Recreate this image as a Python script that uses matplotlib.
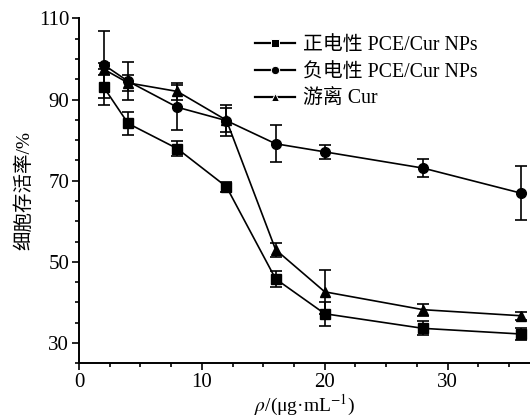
import matplotlib
matplotlib.use("Agg")
import matplotlib.pyplot as plt
from matplotlib.ticker import MultipleLocator
from matplotlib.lines import Line2D

plt.rcParams['font.family'] = ['Liberation Serif', 'Noto Sans CJK SC', 'DejaVu Sans']
plt.rcParams['mathtext.fontset'] = 'stix'

x = [2, 4, 8, 12, 16, 20, 28, 36]
pos_y = [93.1, 84.1, 77.9, 68.5, 45.8, 37.2, 33.6, 32.2]
pos_err = [4.5, 2.8, 1.9, 1.2, 2.0, 3.0, 1.7, 1.5]
neg_y = [98.6, 94.5, 88.1, 84.8, 79.1, 77.1, 73.1, 66.9]
neg_err = [8.2, 4.7, 5.5, 3.8, 4.5, 1.7, 2.2, 6.7]
free_y = [97.5, 94.1, 92.0, 84.9, 53.0, 42.6, 38.2, 36.7]
free_err = [1.5, 2.0, 2.0, 3.0, 1.7, 5.5, 1.5, 1.0]
labels = ['正电性 PCE/Cur NPs', '负电性 PCE/Cur NPs', '游离 Cur']
markers = ['s', 'o', '^']

fig = plt.figure(figsize=(5.3, 4.18), dpi=100)
ax = fig.add_axes([0.149, 0.131, 0.851, 0.825])

common = dict(color='black', lw=1.2, elinewidth=1.2, capsize=4, capthick=1.2, markersize=7)
for ys, es, m in zip([pos_y, neg_y, free_y], [pos_err, neg_err, free_err], markers):
    ax.errorbar(x, ys, yerr=es, marker=m, **common)

ax.set_xlim(0, 36.7)
ax.set_ylim(25, 110)
ax.set_xticks([0, 10, 20, 30])
ax.set_yticks([30, 50, 70, 90, 110])
ax.xaxis.set_minor_locator(MultipleLocator(2.5))
ax.yaxis.set_minor_locator(MultipleLocator(5))
ax.tick_params(which='major', direction='out', length=5, width=1.2, labelsize=15, pad=2)
ax.tick_params(which='minor', direction='out', length=3, width=1.2)
for s in ['top', 'right']:
    ax.spines[s].set_visible(False)
for s in ['left', 'bottom']:
    ax.spines[s].set_linewidth(1.4)

ax.set_ylabel('细胞存活率/%', fontsize=14)
ax.yaxis.set_label_coords(-0.102, 0.5)
ax.set_xlabel(r'$\rho$/(μg·mL$^{-1}$)', fontsize=14)
ax.xaxis.set_label_coords(0.5, -0.085)

handles = [Line2D([], [], color='black', lw=1.6, marker=m, markersize=6,
                  markeredgecolor='white', markeredgewidth=0.7) for m in markers]
ax.legend(handles, labels, loc='upper left', bbox_to_anchor=(0.39, 0.95), frameon=False,
          fontsize=14.3, handlelength=2.0, handletextpad=0.4, labelspacing=0.4,
          borderaxespad=0, borderpad=0)

fig.savefig('out.png', dpi=100)
